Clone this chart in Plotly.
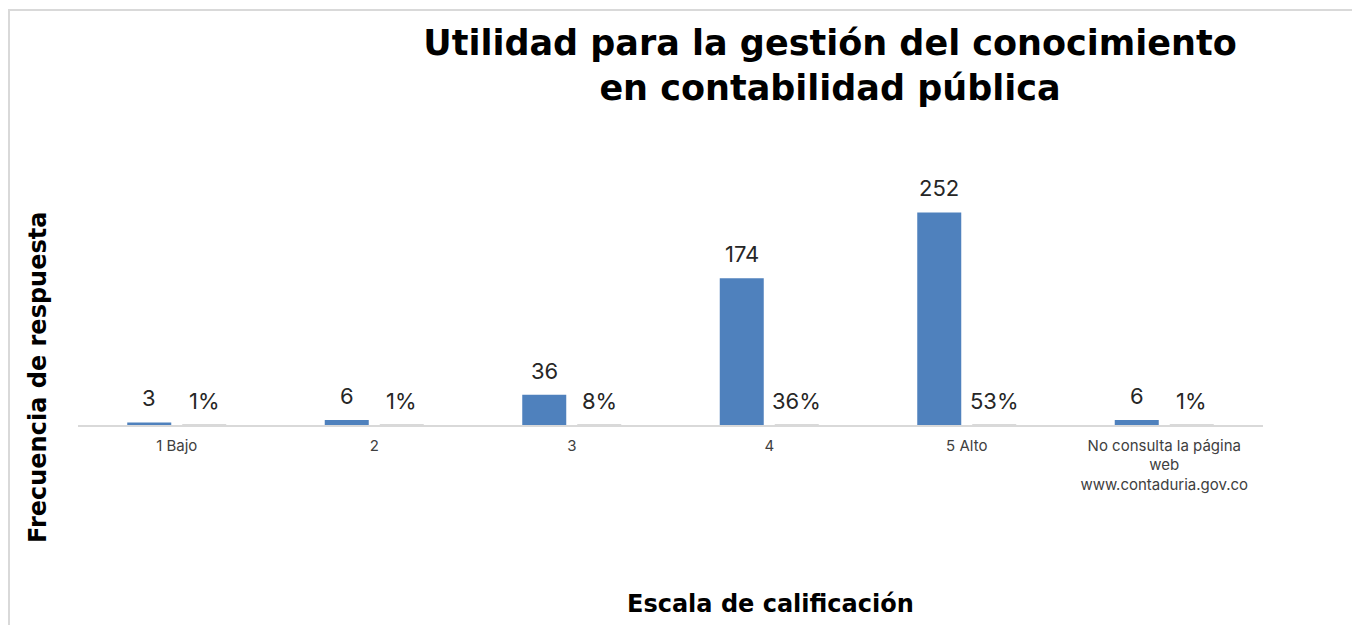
import plotly.graph_objects as go

categories = ["1 Bajo", "2", "3", "4", "5 Alto",
              "No consulta la página<br>web<br>www.contaduria.gov.co"]
counts = [3, 6, 36, 174, 252, 6]
percents = [0.01, 0.01, 0.08, 0.36, 0.53, 0.01]
pct_labels = ["1%", "1%", "8%", "36%", "53%", "1%"]

title_text = "Utilidad para la gestión del conocimiento<br>en contabilidad pública"
x_title = "Escala de calificación"
y_title = "Frecuencia de respuesta"

BLUE = "#4F81BD"
LABEL_FONT = "Inter, Open Sans, sans-serif"
BOLD_FONT = "DejaVu Sans, sans-serif"

fig = go.Figure()
fig.add_trace(go.Bar(x=categories, y=counts, name="Frecuencia",
                     marker=dict(color=BLUE, line=dict(width=0))))
fig.add_trace(go.Bar(x=categories, y=percents, name="Porcentaje",
                     marker=dict(color="#d9d9d9", line=dict(width=0))))

annotations = []
for i, v in enumerate(counts):
    annotations.append(dict(x=i, y=v, xref="x", yref="y", text=str(v),
                            showarrow=False, xshift=-27.5, yshift=9,
                            yanchor="bottom", xanchor="center",
                            font=dict(family=LABEL_FONT, size=22, color="#262626")))
for i, (v, t) in enumerate(zip(percents, pct_labels)):
    annotations.append(dict(x=i, y=v, xref="x", yref="y", text=t,
                            showarrow=False, xshift=27.5, yshift=9,
                            yanchor="bottom", xanchor="center",
                            font=dict(family=LABEL_FONT, size=22, color="#262626")))
annotations.append(dict(x=0.5848, y=-0.7075, xref="paper", yref="paper",
                        text=x_title, showarrow=False, xanchor="center", yanchor="middle",
                        font=dict(family=BOLD_FONT, size=24, color="#000000", weight="bold")))
annotations.append(dict(x=-0.0338, y=0.1897, xref="paper", yref="paper",
                        text=y_title, showarrow=False, textangle=-90,
                        xanchor="center", yanchor="middle",
                        font=dict(family=BOLD_FONT, size=24, color="#000000", weight="bold")))

# plot area in figure pixels: x 70..1255, y 164..417
fig.update_layout(
    width=1360, height=625,
    margin=dict(l=70, r=105, t=164, b=208, autoexpand=False),
    paper_bgcolor="white", plot_bgcolor="white",
    barmode="group", bargap=0.443, bargroupgap=0.2,
    showlegend=False,
    title=dict(text=title_text, x=0.6346, xref="paper", xanchor="center",
               y=0.925, yref="container", yanchor="top",
               font=dict(family=BOLD_FONT, size=35, color="#000000", weight="bold")),
    annotations=annotations,
    shapes=[dict(type="rect", xref="paper", yref="paper",
                 x0=(1 - 70) / 1185, x1=1.2, y0=-1.0, y1=(417 - 2) / 253,
                 line=dict(color="#d9d9d9", width=2), fillcolor="rgba(0,0,0,0)",
                 layer="below")],
)
fig.update_xaxes(showline=True, linecolor="#d9d9d9", linewidth=1.5,
                 ticks="outside", ticklen=6, tickcolor="rgba(0,0,0,0)",
                 tickfont=dict(family=LABEL_FONT, size=15, color="#404040"),
                 showgrid=False, zeroline=False, automargin=False)
fig.update_yaxes(range=[0, 300], visible=False, showgrid=False, zeroline=False)

fig.write_html("out.html")
